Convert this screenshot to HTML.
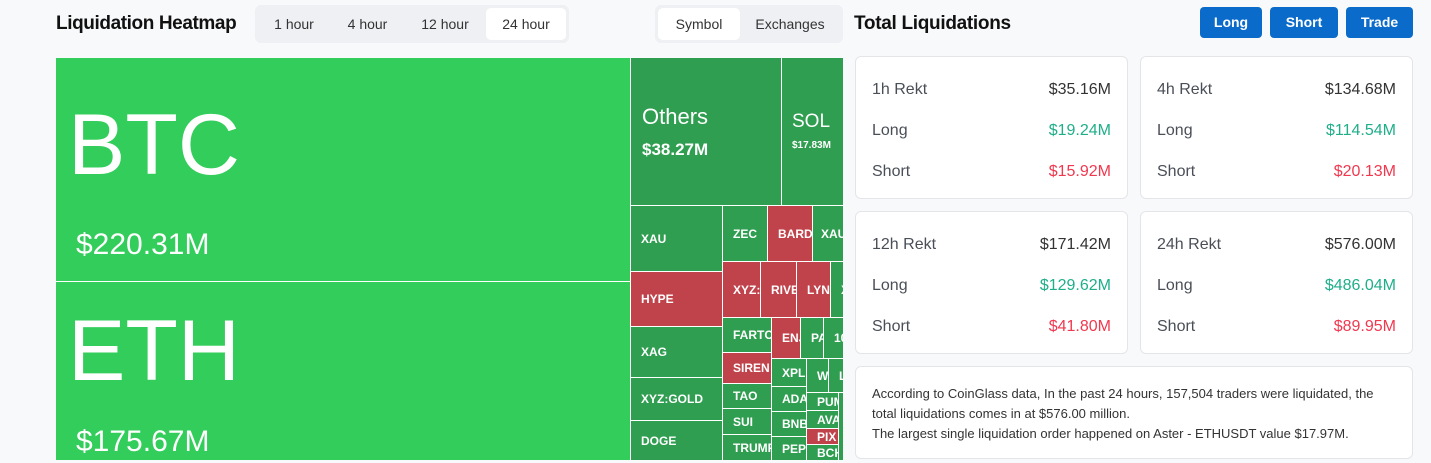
<!DOCTYPE html><html><head><style>
*{box-sizing:border-box;margin:0;padding:0}
body{width:1431px;height:463px;overflow:hidden;background:#f8f9fa;font-family:"Liberation Sans",sans-serif;position:relative}
.a{position:absolute}
.c{position:absolute;color:#fff;font-weight:bold;font-size:12px;overflow:hidden;white-space:nowrap;display:flex;align-items:center;padding-left:10px}
.g{background:#2f9e50}.r{background:#c0424a}.b{background:#32cd5a}
.tab{position:absolute;font-size:14px;color:#333;top:0;height:32px;line-height:32px;text-align:center}
.card{position:absolute;background:#fff;border:1px solid #e3e5e8;border-radius:6px}
.row{position:absolute;left:16px;right:16px;display:flex;justify-content:space-between;font-size:16px;color:#4a4f57}
.btn{position:absolute;top:7px;height:31px;background:#0b6bcb;color:#fff;font-weight:bold;font-size:14px;border-radius:4px;text-align:center;line-height:31px}
</style></head><body>
<div class="a" style="left:56px;top:13px;font-size:19px;letter-spacing:-0.4px;font-weight:bold;color:#111">Liquidation Heatmap</div>
<div class="a" style="left:255px;top:5px;width:314px;height:38px;background:#eef0f3;border-radius:6px">
<div class="tab" style="left:10px;top:3px;width:58px">1 hour</div>
<div class="tab" style="left:80px;top:3px;width:65px">4 hour</div>
<div class="tab" style="left:155px;top:3px;width:70px">12 hour</div>
<div class="tab" style="left:231px;top:3px;width:80px;background:#fff;border-radius:5px">24 hour</div>
</div>
<div class="a" style="left:655px;top:5px;width:188px;height:38px;background:#eef0f3;border-radius:6px">
<div class="tab" style="left:3px;top:3px;width:82px;background:#fff;border-radius:5px">Symbol</div>
<div class="tab" style="left:88px;top:3px;width:94px">Exchanges</div>
</div>
<div class="a" style="left:854px;top:13px;font-size:19px;letter-spacing:-0.3px;font-weight:bold;color:#111">Total Liquidations</div>
<div class="btn" style="left:1200px;width:62px">Long</div>
<div class="btn" style="left:1270px;width:68px">Short</div>
<div class="btn" style="left:1346px;width:67px">Trade</div>

<div class="a" style="left:56px;top:58px;width:787px;height:402px;background:#fff"></div>
<div class="c b" style="left:56px;top:58px;width:574px;height:223px;display:block;padding:0">
<div class="a" style="left:12px;top:38px;font-size:86px;font-weight:normal">BTC</div>
<div class="a" style="left:20px;top:170px;font-size:30px;font-weight:normal">$220.31M</div></div>
<div class="c b" style="left:56px;top:282px;width:574px;height:178px;display:block;padding:0">
<div class="a" style="left:12px;top:20px;font-size:86px;font-weight:normal">ETH</div>
<div class="a" style="left:20px;top:143px;font-size:30px;font-weight:normal">$175.67M</div></div>
<div class="c g" style="left:631px;top:58px;width:150px;height:147px;display:block;padding:0">
<div class="a" style="left:11px;top:46px;font-size:22px;font-weight:normal">Others</div>
<div class="a" style="left:11px;top:82px;font-size:17px">$38.27M</div></div>
<div class="c g" style="left:782px;top:58px;width:61px;height:147px;display:block;padding:0">
<div class="a" style="left:10px;top:53px;font-size:19px;font-weight:normal">SOL</div>
<div class="a" style="left:10px;top:82px;font-size:10px">$17.83M</div></div>
<div class="c g" style="left:631px;top:206px;width:91px;height:65px">XAU</div>
<div class="c r" style="left:631px;top:272px;width:91px;height:54px">HYPE</div>
<div class="c g" style="left:631px;top:327px;width:91px;height:50px">XAG</div>
<div class="c g" style="left:631px;top:378px;width:91px;height:42px">XYZ:GOLD</div>
<div class="c g" style="left:631px;top:421px;width:91px;height:39px">DOGE</div>
<div class="c g" style="left:723px;top:206px;width:44px;height:55px">ZEC</div>
<div class="c r" style="left:768px;top:206px;width:44px;height:55px">BARD</div>
<div class="c g" style="left:813px;top:206px;width:30px;height:55px;padding-left:8px">XAU</div>
<div class="c r" style="left:723px;top:262px;width:37px;height:55px">XYZ:</div>
<div class="c r" style="left:761px;top:262px;width:35px;height:55px">RIVE</div>
<div class="c r" style="left:797px;top:262px;width:33px;height:55px">LYN</div>
<div class="c g" style="left:831px;top:262px;width:12px;height:55px">X</div>
<div class="c g" style="left:723px;top:318px;width:48px;height:34px">FARTC</div>
<div class="c r" style="left:723px;top:353px;width:48px;height:30px">SIREN</div>
<div class="c g" style="left:723px;top:384px;width:48px;height:24px">TAO</div>
<div class="c g" style="left:723px;top:409px;width:48px;height:25px">SUI</div>
<div class="c g" style="left:723px;top:435px;width:48px;height:25px">TRUMP</div>
<div class="c r" style="left:772px;top:318px;width:28px;height:40px">ENJ</div>
<div class="c g" style="left:801px;top:318px;width:22px;height:40px">PA</div>
<div class="c g" style="left:824px;top:318px;width:19px;height:40px">10</div>
<div class="c g" style="left:772px;top:359px;width:34px;height:27px">XPL</div>
<div class="c g" style="left:807px;top:359px;width:21px;height:33px">W</div>
<div class="c g" style="left:829px;top:359px;width:14px;height:33px">L</div>
<div class="c g" style="left:772px;top:387px;width:34px;height:24px">ADA</div>
<div class="c g" style="left:772px;top:412px;width:34px;height:24px">BNB</div>
<div class="c g" style="left:772px;top:437px;width:34px;height:23px">PEPE</div>
<div class="c g" style="left:807px;top:393px;width:31px;height:17px">PUM</div>
<div class="c g" style="left:807px;top:411px;width:31px;height:17px">AVA</div>
<div class="c r" style="left:807px;top:429px;width:31px;height:15px">PIX</div>
<div class="c g" style="left:807px;top:445px;width:31px;height:15px">BCH</div>
<div class="c g" style="left:839px;top:393px;width:4px;height:67px;padding:0"></div>

<div class="card" style="left:855px;top:56px;width:273px;height:143px">
<div class="row" style="top:24px"><span>1h Rekt</span><span style="color:#333">$35.16M</span></div>
<div class="row" style="top:65px"><span>Long</span><span style="color:#1fae8a">$19.24M</span></div>
<div class="row" style="top:106px"><span>Short</span><span style="color:#f0384f">$15.92M</span></div></div>
<div class="card" style="left:1140px;top:56px;width:273px;height:143px">
<div class="row" style="top:24px"><span>4h Rekt</span><span style="color:#333">$134.68M</span></div>
<div class="row" style="top:65px"><span>Long</span><span style="color:#1fae8a">$114.54M</span></div>
<div class="row" style="top:106px"><span>Short</span><span style="color:#f0384f">$20.13M</span></div></div>
<div class="card" style="left:855px;top:211px;width:273px;height:143px">
<div class="row" style="top:24px"><span>12h Rekt</span><span style="color:#333">$171.42M</span></div>
<div class="row" style="top:65px"><span>Long</span><span style="color:#1fae8a">$129.62M</span></div>
<div class="row" style="top:106px"><span>Short</span><span style="color:#f0384f">$41.80M</span></div></div>
<div class="card" style="left:1140px;top:211px;width:273px;height:143px">
<div class="row" style="top:24px"><span>24h Rekt</span><span style="color:#333">$576.00M</span></div>
<div class="row" style="top:65px"><span>Long</span><span style="color:#1fae8a">$486.04M</span></div>
<div class="row" style="top:106px"><span>Short</span><span style="color:#f0384f">$89.95M</span></div></div>
<div class="card" style="left:855px;top:366px;width:558px;height:93px;padding:17px 16px;font-size:13px;line-height:20px;color:#333">According to CoinGlass data, In the past 24 hours, 157,504 traders were liquidated, the total liquidations comes in at $576.00 million.<br>The largest single liquidation order happened on Aster - ETHUSDT value $17.97M.</div>
</body></html>
